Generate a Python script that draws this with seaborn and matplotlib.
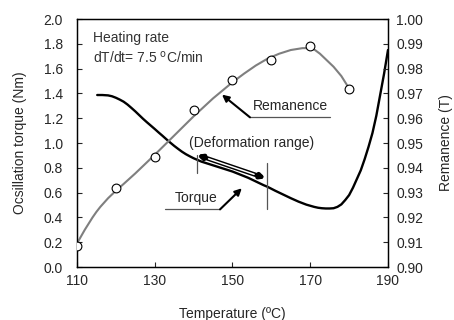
import numpy as np
import pandas as pd
import matplotlib.pyplot as plt
import seaborn as sns

# torque curve (left axis, Nm)
torque_temp = [115.2, 116.5, 118, 119, 120, 121, 122, 123, 124, 125, 126, 127, 128, 129,
               130, 131, 132, 133, 134, 135, 136, 137, 138, 139, 140, 142, 144, 146,
               148, 150, 152, 154, 156, 158, 159, 161, 163, 165, 167, 169, 171, 172,
               173, 174, 175, 176, 177, 178, 179, 180, 181, 182, 183, 184, 185, 186,
               187, 188, 189, 190]
torque_val = [1.387, 1.387, 1.384, 1.377, 1.365, 1.35, 1.333, 1.31, 1.283, 1.255, 1.225,
              1.195, 1.167, 1.14, 1.113, 1.085, 1.058, 1.03, 1.003, 0.977, 0.953, 0.93,
              0.91, 0.893, 0.877, 0.85, 0.83, 0.81, 0.79, 0.77, 0.745, 0.72, 0.69, 0.66,
              0.647, 0.615, 0.585, 0.555, 0.527, 0.503, 0.485, 0.478, 0.474, 0.472,
              0.472, 0.474, 0.485, 0.505, 0.54, 0.58, 0.64, 0.71, 0.78, 0.87, 0.97,
              1.08, 1.22, 1.39, 1.56, 1.75]

# remanence fitted line (right axis, T)
rem_line_temp = [110, 111, 112, 113, 114, 115, 116, 117, 118, 119, 120, 122, 125, 130,
                 135, 140, 145, 150, 153, 156, 159, 162, 165, 168, 170, 171, 172.5, 174,
                 176, 178, 180]
rem_line_val = [0.9095, 0.91225, 0.915, 0.9175, 0.92, 0.92225, 0.92425, 0.926, 0.92775,
                0.92925, 0.93075, 0.9335, 0.93775, 0.94525, 0.953, 0.96075, 0.968,
                0.9745, 0.978, 0.98125, 0.984, 0.986, 0.9875, 0.98825, 0.98825, 0.98775,
                0.986, 0.98375, 0.98075, 0.977, 0.972]

# remanence measured points
rem_pt_temp = [110, 120, 130, 140, 150, 160, 170, 180]
rem_pt_val = [0.9085, 0.932, 0.9445, 0.9635, 0.9755, 0.9835, 0.989, 0.97175]

sns.set_style("ticks")
plt.rcParams['font.family'] = ['Liberation Sans', 'DejaVu Sans']
plt.rcParams['font.size'] = 10

fig = plt.figure(figsize=(4.54, 3.2), dpi=100)
ax = fig.add_axes([0.1696, 0.1656, 0.685, 0.775])
ax2 = ax.twinx()

sns.lineplot(x=torque_temp, y=torque_val, ax=ax, color='black', lw=1.7,
             estimator=None, sort=False)
sns.lineplot(x=rem_line_temp, y=rem_line_val, ax=ax2, color='#7f7f7f', lw=1.5,
             estimator=None, sort=False)
sns.scatterplot(x=rem_pt_temp, y=rem_pt_val, ax=ax2, marker='o', s=40,
                facecolor='white', edgecolor='black', linewidth=0.8, zorder=5)

ax.set_xlim(110, 190)
ax.set_ylim(0, 2.0)
ax2.set_ylim(0.90, 1.00)
ax.set_xticks([110, 130, 150, 170, 190])
ax.set_yticks(np.arange(0, 2.01, 0.2))
ax.set_yticklabels([f"{v:.1f}" for v in np.arange(0, 2.01, 0.2)])
ax2.set_yticks(np.arange(0.90, 1.001, 0.01))
ax2.set_yticklabels([f"{v:.2f}" for v in np.arange(0.90, 1.001, 0.01)])

ax.tick_params(axis='y', direction='in', length=3.5, width=0.8, pad=10, labelsize=10)
ax.tick_params(axis='x', direction='in', length=3.5, width=0.8, pad=5, labelsize=10)
ax2.tick_params(direction='in', length=3.5, width=0.8, pad=6, labelsize=10)
for a in (ax, ax2):
    for s in a.spines.values():
        s.set_visible(True)
        s.set_linewidth(0.9)
        s.set_color('black')

ax.set_xlabel('Temperature (ºC)', fontsize=10, labelpad=14)
ax.set_ylabel('Ocsillation torque (Nm)', fontsize=10, labelpad=12)
ax2.set_ylabel('Remanence (T)', fontsize=10, labelpad=11)

ax.text(114, 1.85, 'Heating rate', fontsize=10, color='#333333', va='center')
ax.text(114, 1.69, 'dT/dt= 7.5 $^{\\rm o}$C/min', fontsize=10, color='#333333', va='center')

# remanence label
ax.text(165, 1.30, 'Remanence', fontsize=10, ha='center', va='center')
ax.plot([154.5, 175.1], [1.207, 1.207], color='#555555', lw=0.9)
ax.annotate('', xy=(147.3, 1.39), xytext=(154.5, 1.207),
            arrowprops=dict(arrowstyle='-|>', color='black', lw=1.5, mutation_scale=10,
                            shrinkA=0, shrinkB=0))

# deformation range
ax.text(154.8, 1.0, '(Deformation range)', fontsize=10, ha='center', va='center')
ax.plot([140.8, 140.8], [0.76, 0.90], color='#555555', lw=0.9)
ax.plot([158.8, 158.8], [0.468, 0.836], color='#555555', lw=0.9)
ax.annotate('', xy=(140.8, 0.905), xytext=(158.6, 0.715),
            arrowprops=dict(arrowstyle='<|-|>', color='black', lw=3.2, mutation_scale=6,
                            shrinkA=0, shrinkB=0))
ax.annotate('', xy=(140.8, 0.905), xytext=(158.6, 0.715),
            arrowprops=dict(arrowstyle='-', color='white', lw=1.1,
                            shrinkA=9, shrinkB=9))

# torque label
ax.text(140.6, 0.555, 'Torque', fontsize=10, ha='center', va='center')
ax.plot([132.6, 146.8], [0.465, 0.465], color='#555555', lw=0.9)
ax.annotate('', xy=(152.4, 0.635), xytext=(146.8, 0.465),
            arrowprops=dict(arrowstyle='-|>', color='black', lw=1.5, mutation_scale=10,
                            shrinkA=0, shrinkB=0))

fig.savefig('out.png', dpi=100)
plt.close(fig)
